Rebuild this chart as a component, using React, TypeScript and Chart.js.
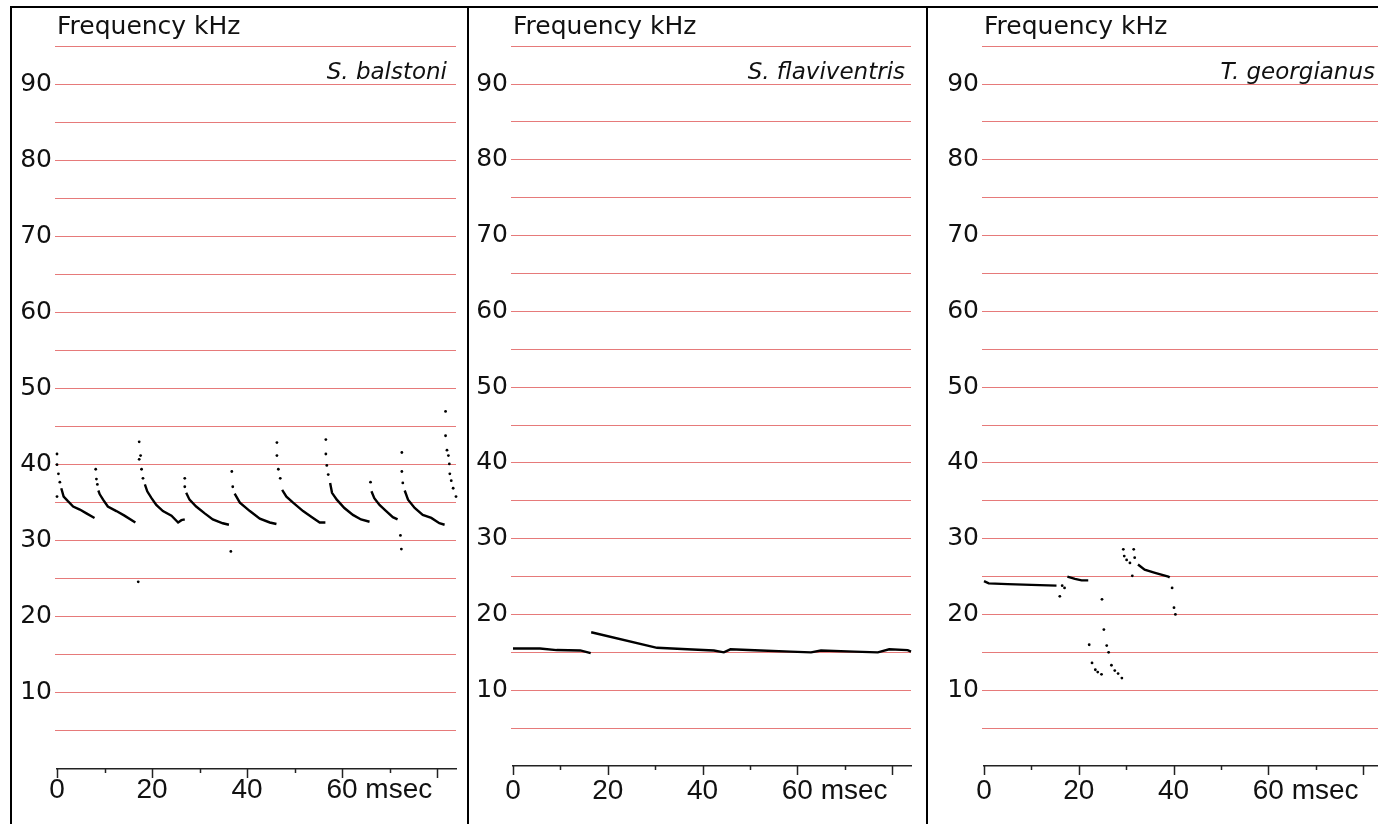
import React, { useEffect, useRef } from 'react';
import { Chart, registerables } from 'chart.js';

Chart.register(...registerables);

// ---------- Data (time msec, frequency kHz) ----------
const xTickValues = [0, 10, 20, 30, 40, 50, 60, 70, 80];
const xLabelValues = [0, 20, 40, 60];
const yLabelValues = [10, 20, 30, 40, 50, 60, 70, 80, 90];
const yGridValues = [0, 5, 10, 15, 20, 25, 30, 35, 40, 45, 50, 55, 60, 65, 70, 75, 80, 85, 90, 95];
const xUnit = 'msec';
const yTitle = 'Frequency kHz';

// S. balstoni: dense parts of each call (traces) and single dots
const balstoniTraces: [number, number][][] = [
  [[0.9, 36.9], [1.4, 35.8], [2.3, 35.2], [3.4, 34.5], [4.8, 34.1], [6.2, 33.6], [7.9, 33.0]],
  [[8.7, 36.6], [9.0, 36.1], [9.7, 35.4], [10.7, 34.5], [12.5, 33.9], [14.2, 33.3], [16.5, 32.4]],
  [[18.5, 37.4], [19.0, 36.5], [19.9, 35.6], [20.9, 34.7], [22.3, 33.9], [24.1, 33.3], [25.5, 32.4], [26.2, 32.7], [26.9, 32.8]],
  [[27.2, 36.3], [27.9, 35.4], [29.3, 34.5], [31.1, 33.6], [32.8, 32.8], [34.9, 32.3], [36.2, 32.1]],
  [[37.4, 36.2], [38.5, 35.0], [40.6, 33.9], [42.7, 32.9], [44.8, 32.4], [46.2, 32.2]],
  [[47.4, 36.7], [48.3, 35.8], [49.7, 35.0], [51.8, 33.9], [53.9, 33.0], [55.3, 32.4], [56.5, 32.4]],
  [[57.5, 37.6], [57.9, 36.3], [58.9, 35.4], [60.5, 34.3], [62.3, 33.4], [64.0, 32.8], [65.8, 32.5]],
  [[66.2, 36.5], [66.8, 35.6], [67.9, 34.7], [69.3, 33.9], [70.7, 33.1], [71.7, 32.8]],
  [[73.2, 36.6], [73.9, 35.4], [75.3, 34.3], [77.0, 33.4], [78.8, 33.0], [80.5, 32.3], [81.6, 32.1]],
];
const balstoniDots: [number, number][] = [
  [0, 41.4], [0, 40.0], [0.3, 38.8], [0.6, 37.7], [0, 35.8],
  [8.15, 39.4], [8.3, 38.1], [8.5, 37.4],
  [17.3, 43.0], [17.6, 41.2], [17.3, 40.7], [17.8, 39.4], [18.1, 38.2], [17.1, 24.6],
  [26.9, 38.2], [26.9, 37.1],
  [36.8, 39.1], [37.0, 37.1], [36.6, 28.6],
  [46.3, 42.9], [46.3, 41.2], [46.6, 39.4], [47.0, 38.2],
  [56.6, 43.3], [56.6, 41.4], [56.8, 39.9], [57.1, 38.7],
  [66.0, 37.7],
  [72.6, 41.6], [72.6, 39.1], [72.8, 37.6], [72.3, 30.7], [72.5, 28.9],
  [81.8, 47.0], [81.8, 43.8], [82.1, 41.9], [82.4, 41.2], [82.6, 40.1], [82.7, 38.8], [83.0, 37.9], [83.4, 36.9], [84.0, 35.8],
];

// S. flaviventris
const flaviventrisTraces: [number, number][][] = [
  [[0, 15.5], [5.7, 15.5], [9.2, 15.3], [14.2, 15.25], [16.4, 14.9]],
  [[16.5, 17.65], [30.4, 15.6], [36.8, 15.4], [42.4, 15.25], [44.5, 15.0], [45.9, 15.4], [52.3, 15.25], [58.6, 15.1], [62.9, 15.0], [65.0, 15.25], [72.0, 15.1], [77.0, 15.0], [79.4, 15.4], [83.3, 15.3], [84.0, 15.1]],
];
const flaviventrisDots: [number, number][] = [];

// T. georgianus
const georgianusTraces: [number, number][][] = [
  [[0, 24.4], [1, 24.1], [5, 24.0], [10, 23.9], [15.3, 23.8]],
  [[17.6, 25.0], [19.2, 24.7], [20.6, 24.5], [22.0, 24.5]],
  [[32.5, 26.6], [33.9, 25.9], [36.1, 25.5], [38.9, 25.0], [39.2, 24.9]],
];
const georgianusDots: [number, number][] = [
  [16.5, 23.8], [17.0, 23.5], [16.0, 22.4],
  [24.9, 22.0], [25.3, 18.0], [22.2, 16.0], [25.9, 15.9], [26.3, 15.0], [22.8, 13.6], [26.9, 13.3],
  [23.5, 12.7], [24.0, 12.4], [24.8, 12.1], [27.6, 12.6], [28.3, 12.2], [29.1, 11.6],
  [29.4, 28.6], [29.6, 27.7], [30.1, 27.2], [30.8, 26.8], [31.3, 25.1],
  [31.6, 28.6], [31.8, 27.5],
  [39.7, 23.5], [40.1, 20.9], [40.4, 20.0],
];

const RED = 'rgb(230,122,122)';
const INK = '#111';

type Panel = {
  species: string;
  traces: [number, number][][];
  dots: [number, number][];
  left: number; width: number;
  yAxisW: number; padRight: number; xAxisH: number; xLabelPad: number;
  speciesInset: number;
};

const panels: Panel[] = [
  { species: 'S. balstoni', traces: balstoniTraces, dots: balstoniDots, left: 12, width: 455, yAxisW: 45, padRight: 11, xAxisH: 55, xLabelPad: 4, speciesInset: 9 },
  { species: 'S. flaviventris', traces: flaviventrisTraces, dots: flaviventrisDots, left: 469, width: 457, yAxisW: 44, padRight: 15, xAxisH: 58, xLabelPad: 8, speciesInset: 6 },
  { species: 'T. georgianus', traces: georgianusTraces, dots: georgianusDots, left: 928, width: 466, yAxisW: 56, padRight: 12, xAxisH: 58, xLabelPad: 8, speciesInset: 7 },
];

const CANVAS_TOP = 8;
const CANVAS_H = 816;
const X_FONT = { family: '"Liberation Sans", Arial, sans-serif', size: 28 };
const Y_FONT = { family: '"DejaVu Sans", sans-serif', size: 25 };
const gridColors = yGridValues.map((v) => (v === 0 ? 'rgba(0,0,0,0)' : RED));

function PanelChart({ p }: { p: Panel }) {
  const ref = useRef<HTMLCanvasElement | null>(null);
  useEffect(() => {
    if (!ref.current) return;
    const decor = {
      id: 'decor',
      afterDraw(chart: any) {
        const { ctx, chartArea, scales } = chart;
        const xs = scales.x;
        const ys = scales.y;
        ctx.save();
        ctx.strokeStyle = '#222';
        ctx.lineWidth = 1.5;
        for (const v of xTickValues) {
          const px = Math.round(xs.getPixelForValue(v)) + 0.5;
          const len = v % 20 === 0 ? 9 : 4;
          ctx.beginPath();
          ctx.moveTo(px, chartArea.bottom);
          ctx.lineTo(px, chartArea.bottom + len);
          ctx.stroke();
        }
        // unit after the last labelled tick
        const last = xLabelValues[xLabelValues.length - 1];
        ctx.font = `${X_FONT.size}px ${X_FONT.family}`;
        ctx.fillStyle = INK;
        ctx.textBaseline = 'middle';
        ctx.textAlign = 'left';
        const lw = ctx.measureText(String(last)).width;
        const sw = ctx.measureText(' ').width;
        const lx = xs.getPixelForValue(last) + lw / 2 + sw;
        const ly = chartArea.bottom + p.xLabelPad + (X_FONT.size * 1.2) / 2;
        ctx.fillText(xUnit, lx, ly);
        // species name
        ctx.font = `italic 23px "DejaVu Sans", sans-serif`;
        ctx.textAlign = 'right';
        ctx.textBaseline = 'alphabetic';
        ctx.fillText(p.species, chartArea.right - p.speciesInset, ys.getPixelForValue(90) - 5);
        ctx.restore();
      },
    };
    const datasets: any[] = p.traces.map((seg) => ({
      type: 'line',
      data: seg.map(([x, y]) => ({ x, y })),
      borderColor: '#000',
      borderWidth: 2.4,
      pointRadius: 0,
      tension: 0,
      clip: 4,
    }));
    datasets.push({
      type: 'scatter',
      data: p.dots.map(([x, y]) => ({ x, y })),
      pointRadius: 1.4,
      pointBackgroundColor: '#000',
      pointBorderWidth: 0,
      clip: 4,
    });
    const chart = new Chart(ref.current, {
      type: 'scatter',
      data: { datasets },
      options: {
        animation: false,
        responsive: false,
        maintainAspectRatio: false,
        devicePixelRatio: 1,
        layout: { padding: { top: 4.2, right: p.padRight, left: 0, bottom: 0 } },
        plugins: {
          legend: { display: false },
          tooltip: { enabled: false },
          title: {
            display: true,
            text: yTitle,
            align: 'start',
            fullSize: false,
            color: INK,
            font: { family: '"DejaVu Sans", sans-serif', size: 25, weight: 'normal' },
            padding: { top: 0, bottom: 4 },
          },
        },
        scales: {
          x: {
            type: 'linear',
            min: 0,
            max: 84,
            afterFit: (s: any) => { s.height = p.xAxisH; },
            grid: { display: false, drawTicks: false },
            border: { display: true, color: '#222', width: 1.5 },
            ticks: {
              stepSize: 10,
              includeBounds: false,
              autoSkip: false,
              maxRotation: 0,
              padding: p.xLabelPad,
              color: INK,
              font: X_FONT,
              callback: (v: any) => (xLabelValues.includes(Number(v)) ? String(v) : ''),
            },
          },
          y: {
            type: 'linear',
            min: 0,
            max: 95,
            afterFit: (s: any) => { s.width = p.yAxisW; },
            grid: {
              color: gridColors,
              tickColor: gridColors,
              lineWidth: 1,
              drawTicks: true,
              tickLength: 2,
            },
            border: { display: false },
            ticks: {
              stepSize: 5,
              includeBounds: false,
              autoSkip: false,
              padding: 3,
              color: INK,
              font: Y_FONT,
              callback: (v: any) => (yLabelValues.includes(Number(v)) ? String(v) : ''),
            },
          },
        },
      } as any,
      plugins: [decor],
    });
    return () => chart.destroy();
  }, [p]);
  return (
    <canvas
      ref={ref}
      width={p.width}
      height={CANVAS_H}
      style={{ position: 'absolute', left: p.left, top: CANVAS_TOP, width: p.width, height: CANVAS_H }}
    />
  );
}

export default function App() {
  const borders = [10, 467, 926];
  return (
    <div style={{ position: 'absolute', left: 0, top: 0, width: 1378, height: 824, overflow: 'hidden', background: '#fff' }}>
      {borders.map((bx, i) => (
        <div
          key={i}
          style={{
            position: 'absolute', left: bx, top: 6, width: 470, height: 840,
            borderLeft: '2px solid #000', borderTop: '2px solid #000', boxSizing: 'border-box',
          }}
        />
      ))}
      {panels.map((p, i) => (
        <PanelChart key={i} p={p} />
      ))}
    </div>
  );
}
